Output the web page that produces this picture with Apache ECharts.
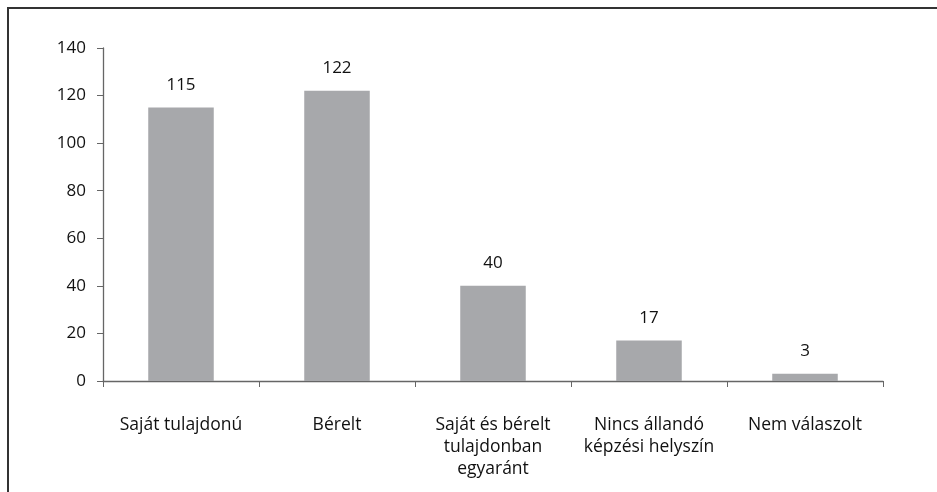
<!DOCTYPE html>
<html>
<head>
<meta charset="UTF-8">
<title>Képzési helyszín</title>
<script src="https://cdn.jsdelivr.net/npm/echarts@6/dist/echarts.min.js"></script>
<style>
	html,body{margin:0;padding:0;background:#fff;}
	#frame{
		position:absolute;
		left:7px;top:7px;right:0;bottom:0;
		border-top:2px solid #333;
		border-left:2px solid #333;
	}
	#chart{position:absolute;left:0;top:0;width:937px;height:492px;}
</style>
</head>
<body>
<div id="frame"></div>
<div id="chart"></div>
<script>
	var categories = ["Saját tulajdonú", "Bérelt", "Saját és bérelt\ntulajdonban\negyaránt", "Nincs állandó\nképzési helyszín", "Nem válaszolt"];
	var values = [115, 122, 40, 17, 3];
	var yTicks = [0, 20, 40, 60, 80, 100, 120, 140];

	var font = "'Open Sans', 'Noto Sans', sans-serif";
	var myChart = echarts.init(document.getElementById("chart"));
	var option = {
		animation:false,
		grid:{left:103, right:54, top:48, bottom:111},
		xAxis:{
			type:"category",
			data:categories,
			axisLine:{lineStyle:{color:"#666", width:1.3}},
			axisTick:{show:true, length:6, lineStyle:{color:"#666"}},
			axisLabel:{
				color:"#111", fontSize:17.5, fontFamily:font,
				margin:33, lineHeight:22, interval:0, verticalAlign:"top"
			}
		},
		yAxis:{
			type:"value",
			min:yTicks[0],
			max:yTicks[yTicks.length-1],
			interval:20,
			splitLine:{show:false},
			axisLine:{show:true, lineStyle:{color:"#666", width:1.3}},
			axisTick:{show:true, length:6, lineStyle:{color:"#666"}},
			axisLabel:{color:"#111", fontSize:17, fontFamily:font, margin:17}
		},
		series:[{
			type:"bar",
			data:values,
			barWidth:"42%",
			itemStyle:{color:"#a7a8ab"},
			label:{
				show:true, position:"top", distance:14,
				color:"#111", fontSize:17, fontFamily:font
			}
		}]
	};
	myChart.setOption(option);
</script>
</body>
</html>
